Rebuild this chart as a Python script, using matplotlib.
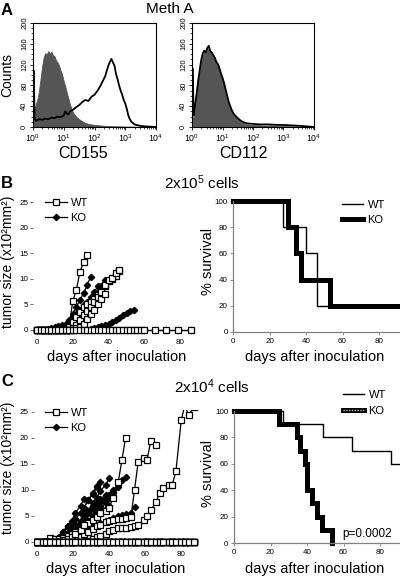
import matplotlib
matplotlib.use('Agg')
import matplotlib.pyplot as plt
from matplotlib import font_manager
from matplotlib.lines import Line2D
from matplotlib.ticker import MultipleLocator, LogLocator, NullFormatter
import numpy as np

plt.rcParams['font.family'] = ['Liberation Sans', 'DejaVu Sans']
plt.rcParams['mathtext.fontset'] = 'custom'
plt.rcParams['mathtext.rm'] = 'Liberation Sans'
plt.rcParams['mathtext.it'] = 'Liberation Sans:italic'
plt.rcParams['mathtext.bf'] = 'Liberation Sans:bold'

# condensed face for tick labels if there is one, else plain Liberation Sans
installed = {f.name for f in font_manager.fontManager.ttflist}
NARROW = 'Liberation Sans Narrow' if 'Liberation Sans Narrow' in installed else 'Liberation Sans'
TICK = 6.5 if NARROW == 'Liberation Sans Narrow' else 5.8

# ---- panel A: flow histograms (log10 intensity, counts) ----
cd155_iso_log = [0.0, 0.05, 0.1, 0.15, 0.2, 0.25, 0.3, 0.35, 0.4, 0.45, 0.5, 0.55, 0.6, 0.65, 0.7,
                 0.75, 0.8, 0.85, 0.9, 0.95, 1.0, 1.05, 1.1, 1.15, 1.2, 1.25, 1.3, 1.4, 1.5, 1.6,
                 1.7, 1.8, 1.9, 2.0, 2.2, 2.4, 2.6, 3.0, 3.5, 4.0]
cd155_iso_cnt = [30, 35, 45, 55, 72, 95, 118, 135, 142, 140, 146, 141, 145, 138, 136,
                 128, 124, 118, 108, 100, 88, 78, 66, 55, 44, 35, 28, 20, 15, 11,
                 8, 6, 5, 4, 3, 2, 1.5, 1, 0.5, 0]
cd155_log = [0.0, 0.03, 0.05, 0.1, 0.2, 0.3, 0.4, 0.5, 0.6, 0.7, 0.8, 0.9, 1.0, 1.05, 1.1,
             1.15, 1.2, 1.3, 1.4, 1.5, 1.6, 1.7, 1.8, 1.9, 2.0, 2.1, 2.2, 2.3, 2.35, 2.4,
             2.45, 2.5, 2.55, 2.6, 2.65, 2.7, 2.75, 2.8, 2.85, 2.9, 2.95, 3.0, 3.05, 3.1, 3.15,
             3.2, 3.3, 3.5, 3.7, 4.0]
cd155_cnt = [108, 108, 16, 12, 15, 14, 16, 15, 18, 17, 20, 19, 22, 30, 26,
             24, 30, 33, 38, 42, 48, 52, 50, 58, 62, 70, 80, 92, 98, 108,
             118, 125, 131, 124, 118, 102, 92, 80, 70, 62, 52, 45, 35, 22, 15,
             10, 5, 2, 1, 0]
cd112_iso_log = [0.0, 0.05, 0.1, 0.15, 0.2, 0.25, 0.3, 0.35, 0.4, 0.45, 0.5, 0.55, 0.6, 0.65, 0.7,
                 0.75, 0.8, 0.85, 0.9, 0.95, 1.0, 1.05, 1.1, 1.15, 1.2, 1.25, 1.3, 1.35, 1.4, 1.5,
                 1.6, 1.7, 1.8, 2.0, 2.3, 2.6, 3.0, 3.5, 4.0]
cd112_iso_cnt = [15, 20, 40, 60, 85, 105, 125, 138, 144, 140, 150, 152, 143, 140, 135,
                 130, 122, 118, 110, 100, 92, 82, 70, 58, 46, 38, 30, 24, 20, 14,
                 10, 7, 5, 4, 3, 3, 2, 1, 0]
cd112_log = [0.0, 0.03, 0.05, 0.1, 0.15, 0.2, 0.25, 0.3, 0.35, 0.4, 0.45, 0.5, 0.55, 0.6, 0.65,
             0.7, 0.75, 0.8, 0.85, 0.9, 0.95, 1.0, 1.05, 1.1, 1.15, 1.2, 1.25, 1.3, 1.35, 1.4,
             1.5, 1.6, 1.7, 1.8, 2.0, 2.2, 2.5, 2.8, 3.0, 3.3, 3.6, 4.0]
cd112_cnt = [112, 112, 22, 42, 63, 88, 108, 128, 141, 147, 143, 152, 156, 146, 143,
             138, 133, 125, 121, 113, 103, 95, 85, 73, 61, 49, 41, 33, 27, 23,
             17, 12, 9, 7, 6, 5, 5, 4, 4, 3, 2, 0]

# ---- panel B: 2x10^5 cells ----
b_days = [0, 2, 4, 6, 8, 10, 12, 14, 16, 18, 20, 22, 24, 26, 28, 30, 32, 34, 36, 38,
          40, 42, 44, 46, 48, 50, 52, 54, 56, 58, 60, 66, 72, 79, 86]
wt_b = [
    [0, 0, 0, 0, 0, 0, 0, 0, 0, 0.8, 5.7, 7.8, 11.4, 13.2, 14.7],
    [0, 0, 0, 0, 0, 0, 0, 0, 0, 0.5, 1.5, 2.5, 3.5, 4.5, 5.0, 5.5, 6.0, 6.8, 7.5, 8.5,
     9.5, 10.0, 10.5, 11.5],
    [0, 0, 0, 0, 0, 0, 0, 0, 0, 0, 0.3, 1.0, 2.0, 3.0, 3.8, 4.5, 5.5, 6.5, 7.5, 8.8,
     9.8, 10.2, 11.2, 11.8],
    [0, 0, 0, 0, 0, 0, 0, 0, 0, 0, 0, 0.3, 0.5, 1.2, 2.2, 3.2, 4.0, 5.0, 6.0, 7.0],
    [0] * 35,
]
ko_b = [
    [0, 0, 0, 0.2, 0.3, 0.5, 0.7, 0.9, 1.2, 2.0, 3.2, 4.5, 5.8, 7.2, 8.8, 10.4],
    [0, 0, 0, 0, 0, 0.2, 0.4, 0.6, 1.0, 1.8, 2.5, 3.2, 4.0, 4.8, 5.5, 6.5, 7.5, 8.5],
    [0, 0, 0, 0, 0, 0, 0, 0.3, 0.6, 1.2, 1.8, 2.5, 3.2, 4.0, 4.8, 5.5, 6.5, 7.5, 8.5, 9.8],
    [0, 0, 0, 0, 0, 0, 0, 0, 0, 0, 0, 0, 0, 0, 0, 0.2, 0.3, 0.5, 0.7, 0.9,
     1.1, 1.5, 1.9, 2.4, 2.9, 3.4, 3.8, 3.9],
    [0] * 35,
]
surv_b_wt_t = [0, 27.5, 40, 46, 92]
surv_b_wt = [100, 80, 60, 20, 20]
surv_b_ko_t = [0, 30, 34.5, 37, 53, 92]
surv_b_ko = [100, 80, 60, 40, 20, 20]

# ---- panel C: 2x10^4 cells ----
c_days = [0, 3, 5, 7, 10, 12, 14, 17, 19, 21, 24, 26, 28, 31, 33, 35, 38, 40, 42, 45,
          47, 49, 52, 54, 56, 59, 61, 63, 66, 68, 70, 73, 75, 77, 80, 82, 84, 87]
wt_c = [
    [0, 0, 0, 0.8, 0.5, 0.6, 0.8, 1.2, 1.5, 2.0, 2.5, 3.0, 3.6, 4.2, 4.8, 5.5, 6.0, 6.5,
     8.5, 11.6, 15.7, 20.0],
    [0, 0, 0, 0, 0, 0, 0.2, 0.4, 0.6, 0.8, 1.0, 1.5, 2.0, 2.5, 3.0, 3.3, 3.8, 4.0, 4.2,
     4.4, 4.5, 4.7, 4.8, 10.0, 15.3, 16.1, 15.8, 19.4, 18.7],
    [0, 0, 0, 0, 0, 0, 0, 0, 0, 0, 0, 0, 0.2, 0.5, 0.9, 1.2, 1.6, 2.1, 2.4, 2.6, 2.6, 2.7,
     2.9, 3.0, 3.2, 4.2, 5.0, 6.1, 7.7, 9.5, 10.3, 10.9, 11.0, 13.6, 23.5, 26.3, 24.4, 26.0],
    [0, 0, 0, 0, 0, 0, 0.3, 0.6, 1.0, 1.6, 2.4, 3.2],
    [0] * 38, [0] * 38, [0] * 38, [0] * 38, [0] * 38, [0] * 38,
]
ko_c = [
    [0, 0, 0, 0, 0.3, 1.0, 2.0, 3.0, 4.0, 5.5, 7.0, 8.3],
    [0, 0, 0, 0.2, 0.5, 1.0, 2.0, 3.0, 3.6, 4.5, 5.5, 6.5, 8.0, 9.2, 10.5],
    [0, 0, 0, 0, 0.3, 0.8, 1.5, 2.8, 3.5, 4.5, 5.5, 6.5, 8.0, 9.5, 10.8, 11.5],
    [0, 0, 0, 0, 0, 0.3, 0.8, 1.8, 2.5, 3.2, 4.0, 5.0, 6.0, 7.0, 7.5, 8.3, 9.0],
    [0, 0, 0, 0, 0, 0.2, 0.5, 1.5, 2.2, 3.0, 3.8, 4.8, 6.0, 7.5, 8.5, 9.8, 11.0, 12.3],
    [0, 0, 0, 0, 0, 0, 0.3, 1.0, 1.8, 2.5, 3.0, 3.5, 4.0, 4.8, 5.3, 5.8, 6.3, 7.0],
    [0, 0, 0, 0, 0, 0.2, 0.5, 1.2, 2.0, 2.8, 3.5, 4.5, 5.5, 6.3, 7.0, 7.8, 8.4, 9.0, 9.6],
    [0, 0, 0, 0, 0, 0, 0.3, 0.8, 1.5, 2.0, 2.8, 3.5, 4.0, 5.0, 5.5, 6.5, 7.5, 8.5, 9.5, 10.5],
    [0, 0, 0, 0, 0, 0, 0.2, 0.6, 1.2, 2.0, 2.5, 3.0, 4.0, 5.0, 6.0, 7.0, 8.0, 9.0, 10.0,
     11.0, 12.0, 12.5],
    [0, 0, 0, 0, 0, 0, 0.2, 0.5, 1.0, 1.5, 2.0, 2.3, 2.6, 3.0, 3.3, 3.6, 4.0, 4.3, 4.6,
     5.0, 5.2, 5.3, 5.6, 6.8],
]
surv_c_wt_t = [0, 27, 49, 64.5, 86, 92]
surv_c_wt = [100, 90, 80, 70, 60, 60]
surv_c_ko_t = [0, 24.8, 34.3, 36.2, 38.9, 39.8, 42.9, 45.3, 48.2, 53.5]
surv_c_ko = [100, 90, 80, 70, 60, 40, 30, 20, 10, 0]

W, H = 400, 577
fig = plt.figure(figsize=(W / 100, H / 100), dpi=100)


def box(l, t, w, h):
    return fig.add_axes([l / W, 1 - (t + h) / H, w / W, h / H])


def ftext(x, y, s, **kw):
    fig.text(x / W, 1 - y / H, s, **kw)


def histo(ax, iso_log, iso_cnt, log, cnt):
    ax.fill_between(10 ** np.array(iso_log), iso_cnt, color='#555555', lw=0.6)
    ax.plot(10 ** np.array(log), cnt, color='black', lw=1.3)
    ax.set_xscale('log')
    ax.set_xlim(1, 1e4)
    ax.set_ylim(0, 200)
    ax.xaxis.set_major_locator(LogLocator(base=10, numticks=6))
    ax.xaxis.set_minor_locator(LogLocator(base=10, subs=np.arange(2, 10), numticks=20))
    ax.xaxis.set_minor_formatter(NullFormatter())
    ax.yaxis.set_major_locator(MultipleLocator(40))
    ax.yaxis.set_minor_locator(MultipleLocator(10))
    ax.tick_params(which='major', length=2.5, width=0.6, pad=1)
    ax.tick_params(which='minor', length=1.5, width=0.5)
    ax.tick_params(axis='x', labelsize=6.3)
    ax.tick_params(axis='y', labelrotation=90, labelsize=5.5)
    for lab in ax.get_yticklabels():
        lab.set_va('center')
        lab.set_family(NARROW)
    for sp in ax.spines.values():
        sp.set_linewidth(0.8)


# ---- panel A ----
ax1 = box(33, 23, 123, 104)
histo(ax1, cd155_iso_log, cd155_iso_cnt, cd155_log, cd155_cnt)
ax2 = box(192, 23, 122, 104)
histo(ax2, cd112_iso_log, cd112_iso_cnt, cd112_log, cd112_cnt)

ftext(1, 3, 'A', size=12, weight='bold', va='top')
ftext(170, 9, 'Meth A', size=11, ha='center', va='center')
ftext(7, 75, 'Counts', size=10, rotation=90, ha='center', va='center')
ftext(83, 153, 'CD155', size=11.5, ha='center', va='center')
ftext(243, 153, 'CD112', size=11.5, ha='center', va='center')


def tumor(ax, days, wt, ko):
    for i, s in enumerate(ko):
        ax.plot(days[:len(s)], s, color='black', lw=0.9, marker='D', ms=3.2,
                mfc='black', mec='black', label='KO' if i == 0 else None)
    for i, s in enumerate(wt):
        ax.plot(days[:len(s)], s, color='black', lw=0.9, marker='s', ms=4.2,
                mfc='white', mec='black', mew=0.9, label='WT' if i == 0 else None)
    ax.set_xlim(-2, 92)
    ax.set_ylim(-1, 25.3)
    ax.set_xticks([0, 20, 40, 60, 80])
    ax.set_yticks([0, 5, 10, 15, 20, 25])
    for k in ['top', 'right', 'bottom', 'left']:
        ax.spines[k].set_visible(False)
    ax.tick_params(axis='x', length=0, pad=3, labelsize=TICK, labelfontfamily=NARROW)
    ax.tick_params(axis='y', length=2.5, width=0.6, pad=1, labelsize=TICK,
                   labelfontfamily=NARROW, color='#555555')
    h, l = ax.get_legend_handles_labels()
    order = [l.index('WT'), l.index('KO')]
    return [h[o] for o in order], ['WT', 'KO']


def survival(ax, xmax):
    ax.set_xlim(0, xmax)
    ax.set_ylim(0, 100)
    ax.set_xticks([0, 20, 40, 60, 80])
    ax.set_yticks([0, 20, 40, 60, 80, 100])
    for k in ['top', 'right']:
        ax.spines[k].set_visible(False)
    for k in ['bottom', 'left']:
        ax.spines[k].set_color('#808080')
        ax.spines[k].set_linewidth(0.9)
    ax.tick_params(length=2.5, width=0.6, pad=1.5, labelsize=TICK,
                   labelfontfamily=NARROW, color='#808080')


# ---- panel B ----
ax3 = box(33.4, 200.5, 168.3, 134.6)
h, l = tumor(ax3, b_days, wt_b, ko_b)
ax3.legend(h, l, loc='upper left', bbox_to_anchor=(45 / W, 1 - 198 / H),
           bbox_transform=fig.transFigure, frameon=False, fontsize=8,
           handlelength=2.0, handletextpad=0.3, labelspacing=0.45, borderpad=0,
           borderaxespad=0, numpoints=1)

ax4 = box(233.3, 201, 166.7, 131)
survival(ax4, 166.7 / 1.82)
ax4.plot(surv_b_ko_t, surv_b_ko, drawstyle='steps-post', color='black', lw=3.6,
         clip_on=False, solid_joinstyle='miter', label='KO')
ax4.plot(surv_b_wt_t, surv_b_wt, drawstyle='steps-post', color='black', lw=1.0,
         clip_on=False, label='WT')
hh, ll = ax4.get_legend_handles_labels()
ax4.legend(hh[::-1], ll[::-1], loc='upper left', bbox_to_anchor=(342 / W, 1 - 200 / H),
           bbox_transform=fig.transFigure, frameon=False, fontsize=8,
           handlelength=1.9, handletextpad=0.4, labelspacing=0.45, borderpad=0,
           borderaxespad=0)

ftext(1, 176, 'B', size=12, weight='bold', va='top')
ftext(202, 183, r'2x10$^5$ cells', size=11, ha='center', va='center')
ftext(8, 262, 'tumor size (x10²mm²)', size=10, rotation=90, ha='center', va='center')
ftext(208, 261, '% survival', size=10.5, rotation=90, ha='center', va='center')
ftext(117, 357, 'days after inoculation', size=10.5, ha='center', va='center')
ftext(315, 357, 'days after inoculation', size=10.5, ha='center', va='center')

# ---- panel C ----
ax5 = box(33.7, 410.4, 169.2, 136.8)
h, l = tumor(ax5, c_days, wt_c, ko_c)
ax5.legend(h, l, loc='upper left', bbox_to_anchor=(45 / W, 1 - 408 / H),
           bbox_transform=fig.transFigure, frameon=False, fontsize=8,
           handlelength=2.0, handletextpad=0.3, labelspacing=0.45, borderpad=0,
           borderaxespad=0, numpoints=1)

ax6 = box(234, 411, 166, 132)
survival(ax6, 166 / 1.825)
ax6.plot(surv_c_ko_t, surv_c_ko, drawstyle='steps-post', color='black', lw=3.6,
         clip_on=False, solid_joinstyle='miter')
ax6.plot(surv_c_wt_t, surv_c_wt, drawstyle='steps-post', color='black', lw=1.0,
         clip_on=False)
wt_h = Line2D([], [], color='black', lw=1.0)
ko_h = (Line2D([], [], color='black', lw=3.6),
        Line2D([], [], color='#bbbbbb', lw=1.0, ls=(0, (1, 1))))
ax6.legend([wt_h, ko_h], ['WT', 'KO'], loc='upper left', bbox_to_anchor=(343 / W, 1 - 390 / H),
           bbox_transform=fig.transFigure, frameon=False, fontsize=8,
           handlelength=1.9, handletextpad=0.4, labelspacing=0.5, borderpad=0,
           borderaxespad=0)
ftext(367, 534, 'p=0.0002', size=8.5, ha='center', va='center')

ftext(1, 374, 'C', size=12, weight='bold', va='top')
ftext(212, 387, r'2x10$^4$ cells', size=11, ha='center', va='center')
ftext(8, 468, 'tumor size (x10²mm²)', size=10, rotation=90, ha='center', va='center')
ftext(208, 473, '% survival', size=10.5, rotation=90, ha='center', va='center')
ftext(116, 569, 'days after inoculation', size=10.5, ha='center', va='center')
ftext(315, 569, 'days after inoculation', size=10.5, ha='center', va='center')

fig.savefig('out.png', dpi=100)
